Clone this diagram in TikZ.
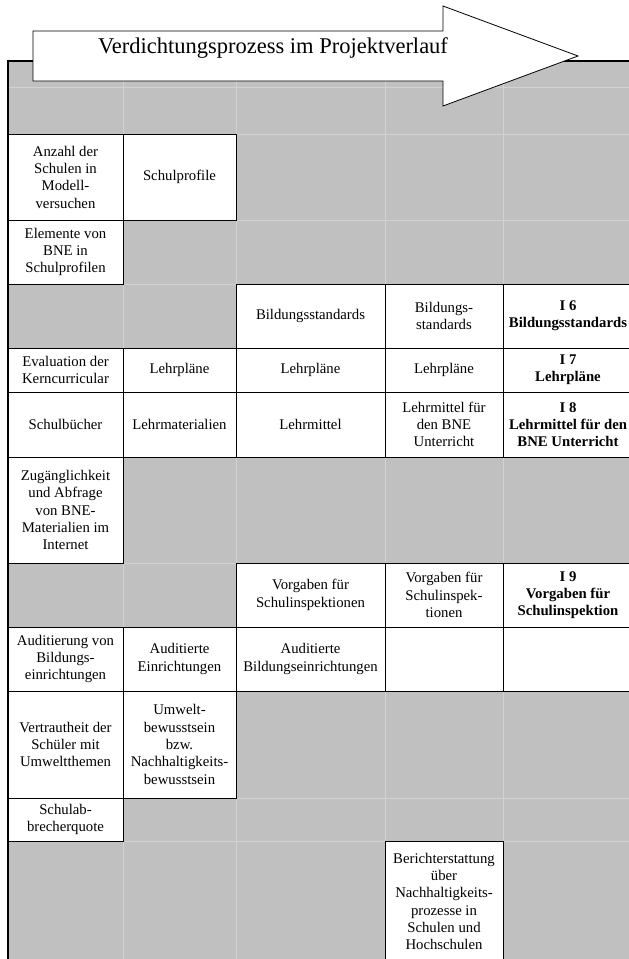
\documentclass[tikz,border=0pt]{standalone}
\usepackage{fontspec}
\setmainfont{Liberation Serif}
\usepackage{tikz}
\usetikzlibrary{positioning}
\definecolor{TableGrey}{HTML}{C0C0C0}
\definecolor{GridGrey}{HTML}{D2D2D2}
\newcommand{\celltext}{\fontsize{14.75}{17.3}\selectfont}
\newcommand{\titletext}{\fontsize{22.5}{27}\selectfont}
\tikzset{
  cell/.style={draw=black,line width=0.8pt,fill=white,inner sep=0pt,
    outer sep=0pt,align=center,font=\celltext},
  boldcell/.style={cell,font=\celltext\bfseries},
  colA/.style={minimum width=115pt},
  colB/.style={minimum width=113pt},
  colC/.style={minimum width=149pt},
  colD/.style={minimum width=118pt},
  colE/.style={minimum width=130pt},
  gridline/.style={draw=GridGrey,line width=0.8pt},
  frame/.style={draw=black,line width=1.8pt},
  arrowshape/.style={draw=black,line width=0.8pt,fill=white,line join=miter}
}
\begin{document}
\begin{tikzpicture}[x=1pt,y=-1pt]
  \useasboundingbox (0,0) rectangle (629,959);
  \begin{scope}
    \clip (0,0) rectangle (629,959);
    % grey table background
    \fill[TableGrey] (8,61) rectangle (633,962);
    \foreach \x in {123,236,385,503}
      \draw[gridline] (\x,61) -- (\x,962);
    \foreach \y in {87,134,220,284,348,392,457,563,627,691,798,841}
      \draw[gridline] (8,\y) -- (633,\y);
    % row: Modellversuche
    \node[cell,colA,minimum height=86pt] (anzahl) at (65.5,177) {Anzahl der\\Schulen in\\Modell-\\versuchen};
    \node[cell,colB,minimum height=86pt] (profile) at (179.5,177) {Schulprofile};
    \node[cell,colA,minimum height=64pt] (elemente) at (65.5,252) {Elemente von\\BNE in\\Schulprofilen};
    % row: Bildungsstandards
    \node[cell,colC,minimum height=64pt] (standC) at (310.5,316) {Bildungsstandards};
    \node[cell,colD,minimum height=64pt] (standD) at (444,316) {Bildungs-\\standards};
    \node[boldcell,colE,minimum height=64pt] (standE) at (568,316) {I 6\\Bildungsstandards};
    % row: Lehrplaene
    \node[cell,colA,minimum height=44pt] (evaluation) at (65.5,370) {Evaluation der\\Kerncurricular};
    \node[cell,colB,minimum height=44pt] (planB) at (179.5,370) {Lehrpläne};
    \node[cell,colC,minimum height=44pt] (planC) at (310.5,370) {Lehrpläne};
    \node[cell,colD,minimum height=44pt] (planD) at (444,370) {Lehrpläne};
    \node[boldcell,colE,minimum height=44pt] (planE) at (568,370) {I 7\\Lehrpläne};
    % row: Lehrmittel
    \node[cell,colA,minimum height=65pt] (buecher) at (65.5,424.5) {Schulbücher};
    \node[cell,colB,minimum height=65pt] (mittelB) at (179.5,424.5) {Lehrmaterialien};
    \node[cell,colC,minimum height=65pt] (mittelC) at (310.5,424.5) {Lehrmittel};
    \node[cell,colD,minimum height=65pt] (mittelD) at (444,424.5) {Lehrmittel für\\den BNE\\Unterricht};
    \node[boldcell,colE,minimum height=65pt] (mittelE) at (568,424.5) {I 8\\Lehrmittel für den\\BNE Unterricht};
    \node[cell,colA,minimum height=106pt] (zugang) at (65.5,510) {Zugänglichkeit\\und Abfrage\\von BNE-\\Materialien im\\Internet};
    % row: Schulinspektion
    \node[cell,colC,minimum height=64pt] (inspC) at (310.5,595) {Vorgaben für\\Schulinspektionen};
    \node[cell,colD,minimum height=64pt] (inspD) at (444,595) {Vorgaben für\\Schulinspek-\\tionen};
    \node[boldcell,colE,minimum height=64pt] (inspE) at (568,595) {I 9\\Vorgaben für\\Schulinspektion};
    % row: Auditierung
    \node[cell,colA,minimum height=64pt] (audit) at (65.5,659) {Auditierung von\\Bildungs-\\einrichtungen};
    \node[cell,colB,minimum height=64pt] (auditB) at (179.5,659) {Auditierte\\Einrichtungen};
    \node[cell,colC,minimum height=64pt] (auditC) at (310.5,659) {Auditierte\\Bildungseinrichtungen};
    \node[cell,colD,minimum height=64pt] (auditD) at (444,659) {};
    \node[cell,colE,minimum height=64pt] (auditE) at (568,659) {};
    % row: Umwelt
    \node[cell,colA,minimum height=107pt] (vertraut) at (65.5,744.5) {Vertrautheit der\\Schüler mit\\Umweltthemen};
    \node[cell,colB,minimum height=107pt] (bewusst) at (179.5,744.5) {Umwelt-\\bewusstsein\\bzw.\\Nachhaltigkeits-\\bewusstsein};
    \node[cell,colA,minimum height=43pt] (abbruch) at (65.5,819.5) {Schulab-\\brecherquote};
    \node[cell,colD,minimum height=121pt] (bericht) at (444,901.5) {Berichterstattung\\über\\Nachhaltigkeits-\\prozesse in\\Schulen und\\Hochschulen};
    % outer frame
    \draw[frame] (8,962) -- (8,61) -- (633,61);
  \end{scope}
  % arrow on top
  \draw[arrowshape] (33,31) -- (443,31) -- (443,6) -- (578,56)
    -- (443,106) -- (443,81) -- (33,81) -- cycle;
  \node[anchor=base,font=\titletext,inner sep=0pt] (title) at (273,53) {Verdichtungsprozess im Projektverlauf};
\end{tikzpicture}
\end{document}
